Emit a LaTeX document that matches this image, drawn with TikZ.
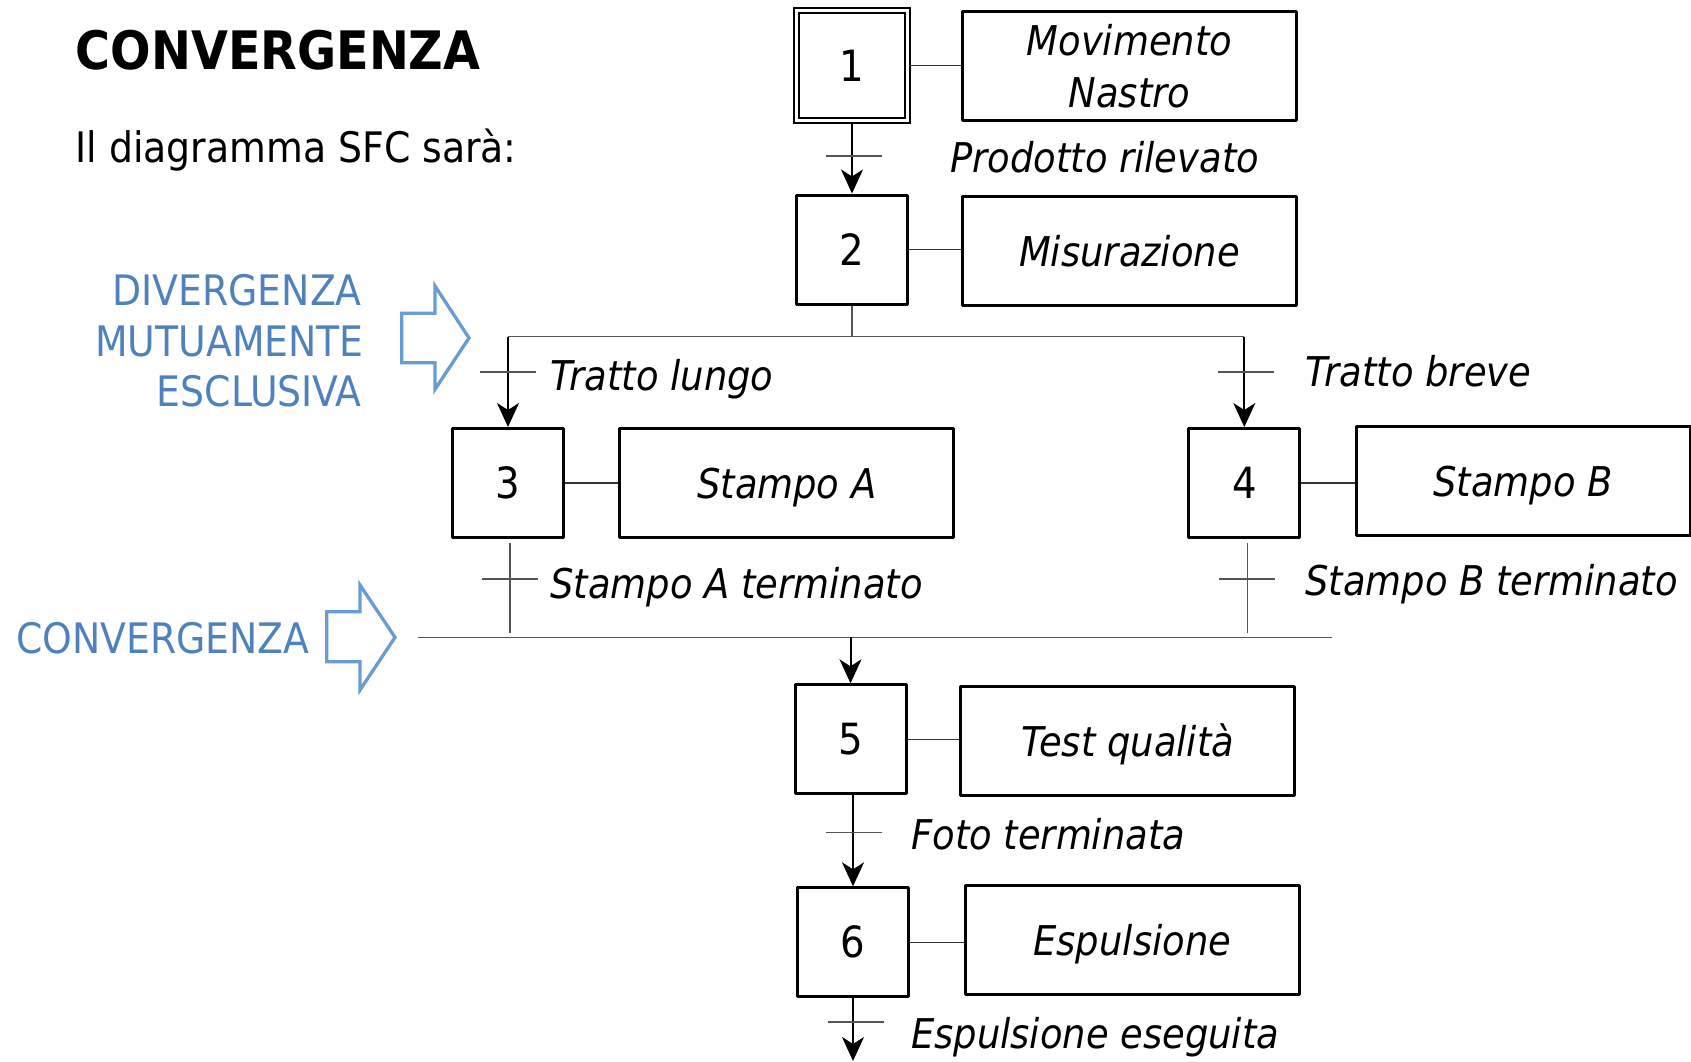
\documentclass[tikz,border=0pt]{standalone}
\usepackage{fontspec}
\IfFontExistsTF{DejaVu Sans Condensed}
  {\setmainfont{DejaVu Sans Condensed}}
  {\setmainfont{DejaVu Sans}[FakeStretch=0.9]}
\usetikzlibrary{arrows.meta}

\definecolor{sfcblue}{RGB}{79,129,189}
\definecolor{sfcarrow}{RGB}{104,156,210}
\definecolor{wire}{RGB}{85,85,85}

\newcommand\numfont{\fontsize{43}{50}\selectfont}
\newcommand\actfont{\fontsize{41}{52}\selectfont\itshape}
\newcommand\bluefont{\fontsize{42}{50}\selectfont}
\newcommand\titlefont{\fontsize{53}{60}\selectfont\bfseries}
\newcommand\introfont{\fontsize{42}{50}\selectfont}

\begin{document}
\begin{tikzpicture}[x=1pt,y=-1pt,
  stepbox/.style={draw, line width=3pt, line join=round, minimum width=111pt,
    minimum height=109pt, inner sep=0pt, font=\numfont},
  initbox/.style={draw, line width=2pt, double, double distance=3pt,
    minimum width=111pt, minimum height=110pt, inner sep=0pt, font=\numfont},
  actbox/.style={draw, line width=3pt, line join=round, minimum width=334pt,
    minimum height=109pt, inner sep=0pt, font=\actfont, align=center},
  actline/.style={actbox, text height=30pt, text depth=0pt},
  link/.style={draw=black!80, line width=1.3pt},
  flow/.style={draw=black, line width=2pt,
    -{Stealth[length=24pt,width=22pt,inset=7pt]}},
  rail/.style={draw=wire, line width=1.5pt},
  bar/.style={draw=wire, line width=1.5pt},
  cond/.style={anchor=base west, inner sep=0pt, font=\actfont},
  bluetext/.style={text=sfcblue, font=\bluefont, inner sep=0pt},
  bigarrow/.style={draw=sfcarrow, line width=3.3pt, line join=miter}
]
\useasboundingbox (0,0) rectangle (1691,1061);

% headings
\node[anchor=base west, inner sep=0pt, font=\titlefont] (title) at (75.5,69) {CONVERGENZA};
\node[anchor=base west, inner sep=0pt, font=\introfont] (intro) at (75.5,162) {Il diagramma SFC sarà:};

% side notes
\node[bluetext, anchor=base east] (div1) at (362,305) {DIVERGENZA};
\node[bluetext, anchor=base east] (div2) at (364,356) {MUTUAMENTE};
\node[bluetext, anchor=base east] (div3) at (362,406.5) {ESCLUSIVA};
\draw[bigarrow] (401.7,313.3) -- (435,313.3) -- (435,286) -- (469,338)
  -- (435,389.3) -- (435,362.7) -- (401.7,362.7) -- cycle;

\node[bluetext, anchor=base west] (conv) at (16,653.5) {CONVERGENZA};
\draw[bigarrow] (326.7,611.7) -- (360,611.7) -- (360,585) -- (395,637.3)
  -- (360,690) -- (360,661.7) -- (326.7,661.7) -- cycle;

% steps
\node[initbox]  (S1) at (852,65.8)   {1};
\node[stepbox]  (S2) at (852,249.5)  {2};
\node[stepbox]  (S3) at (508,483)    {3};
\node[stepbox]  (S4) at (1244.3,483) {4};
\node[stepbox]  (S5) at (850.5,739.3) {5};
\node[stepbox]  (S6) at (853,942.3)  {6};

% actions
\node[actbox]  (A1) at (1129.5,65.8) {Movimento\\Nastro};
\node[actline] (A2) at (1129.5,251)  {Misurazione};
\node[actline] (A3) at (786.8,483)   {Stampo A};
\node[actline] (A4) at (1523,481)    {Stampo B};
\node[actline] (A5) at (1127.9,741.4) {Test qualità};
\node[actline] (A6) at (1132.3,940.3) {Espulsione};

% step-action links
\foreach \s/\a in {S1/A1,S2/A2,S3/A3,S4/A4,S5/A5,S6/A6}
  \draw[link] (\s.east) -- (\s.east -| \a.west);

% step 1 -> step 2
\draw[flow] (S1.south) -- (S2.north);
\coordinate (t1) at (S1.south |- 0,156);
\draw[bar] ([xshift=-26pt]t1) -- ([xshift=30pt]t1);
\node[cond] (c1) at (950,172.5) {Prodotto rilevato};

% selective divergence
\coordinate (dv) at (S2.south |- 0,336.5);
\coordinate (dL) at (S3.north |- dv);
\coordinate (dR) at (S4.north |- dv);
\draw[rail] (S2.south) -- (dv);
\draw[rail] (dL) -- (dR);
\draw[flow] (dL) -- (S3.north);
\draw[flow] (dR) -- (S4.north);
\coordinate (tA) at (S3.north |- 0,372);
\coordinate (tB) at (S4.north |- 0,372);
\draw[bar] ([xshift=-28pt]tA) -- ([xshift=28pt]tA);
\draw[bar] ([xshift=-26pt]tB) -- ([xshift=30pt]tB);
\node[cond] (cA) at (550,390) {Tratto lungo};
\node[cond] (cB) at (1305,386) {Tratto breve};

% convergence
\coordinate (cvL) at (418,637.3);
\coordinate (cvR) at (1332,637.3);
\draw[rail] (cvL) -- (cvR);
\coordinate (eA) at ([xshift=2pt]S3.south |- 0,633);
\coordinate (eB) at ([xshift=3pt]S4.south |- 0,633);
\draw[rail] ([xshift=2pt,yshift=-4pt]S3.south) -- (eA);
\draw[rail] ([xshift=3pt,yshift=-4pt]S4.south) -- (eB);
\coordinate (tC) at (eA |- 0,579);
\coordinate (tD) at (eB |- 0,579);
\draw[bar] ([xshift=-28pt]tC) -- ([xshift=28pt]tC);
\draw[bar] ([xshift=-28pt]tD) -- ([xshift=28pt]tD);
\node[cond] (cC) at (550,598.5) {Stampo A terminato};
\node[cond] (cD) at (1305,595) {Stampo B terminato};
\draw[flow] (S5.north |- cvL) -- (S5.north);

% step 5 -> step 6 -> out
\draw[flow] (S6.north |- S5.south) -- (S6.north);
\coordinate (tE) at (S6.north |- 0,832.5);
\draw[bar] ([xshift=-27pt]tE) -- ([xshift=29pt]tE);
\node[cond] (cE) at (911,849) {Foto terminata};

\coordinate (out) at (S6.south |- 0,1061);
\draw[flow] (S6.south) -- (out);
\coordinate (tF) at (S6.south |- 0,1022);
\draw[bar] ([xshift=-25pt]tF) -- ([xshift=31pt]tF);
\node[cond] (cF) at (911,1048) {Espulsione eseguita};
\end{tikzpicture}
\end{document}
